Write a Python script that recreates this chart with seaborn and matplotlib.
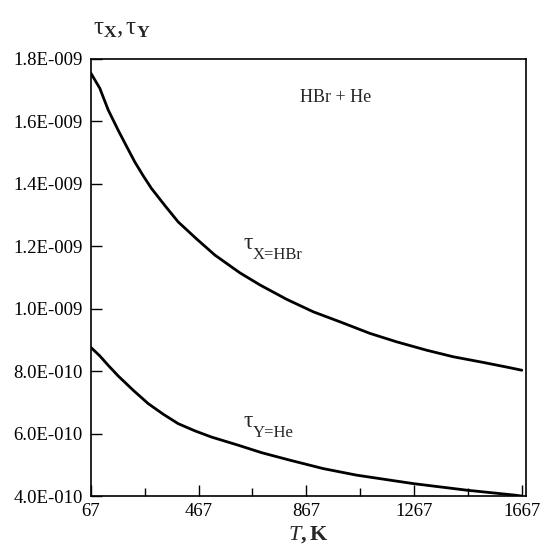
import numpy as np
import pandas as pd
import seaborn as sns
import matplotlib
matplotlib.use("Agg")
import matplotlib.pyplot as plt
from matplotlib.ticker import FuncFormatter, MultipleLocator

# values (tau in units of 1E-10)
t_hbr = [67, 100, 131, 168, 200, 230, 261, 292, 342, 391, 460, 527, 620, 695, 794,
         893, 992, 1103, 1202, 1314, 1413, 1524, 1623, 1667]
tau_hbr = [17.54, 17.06, 16.37, 15.72, 15.19, 14.70, 14.26, 13.85, 13.30, 12.78, 12.23,
           11.72, 11.15, 10.76, 10.30, 9.90, 9.58, 9.21, 8.94, 8.67, 8.46, 8.28, 8.11, 8.03]
t_he = [67, 100, 131, 168, 224, 280, 336, 391, 453, 515, 614, 701, 806, 930, 1054,
        1264, 1462, 1642, 1667]
tau_he = [8.76, 8.49, 8.19, 7.85, 7.39, 6.96, 6.62, 6.32, 6.09, 5.89, 5.63, 5.39, 5.15,
          4.88, 4.67, 4.40, 4.19, 4.03, 4.00]

df = pd.concat([
    pd.DataFrame({"T": t_hbr, "tau": np.array(tau_hbr) * 1e-10, "gas": "HBr"}),
    pd.DataFrame({"T": t_he, "tau": np.array(tau_he) * 1e-10, "gas": "He"}),
])

sns.set_style("ticks")
plt.rcParams['font.family'] = ['Liberation Serif', 'DejaVu Serif']
plt.rcParams['mathtext.fontset'] = 'custom'
plt.rcParams['mathtext.rm'] = 'Liberation Serif'
plt.rcParams['mathtext.it'] = 'Liberation Serif:italic'
plt.rcParams['mathtext.bf'] = 'Liberation Serif:bold'

fig = plt.figure(figsize=(5.41, 5.5), dpi=100)
ax = fig.add_axes([0.168, 0.098, 0.804, 0.795])

sns.lineplot(data=df, x="T", y="tau", units="gas", estimator=None,
             color="black", linewidth=2.0, ax=ax, sort=False)

ax.set_xlim(67, 1682)
ax.set_ylim(4e-10, 1.8e-9)
ax.set_xticks([67, 467, 867, 1267, 1667])
ax.xaxis.set_minor_locator(MultipleLocator(200, offset=67))
ax.set_yticks(np.arange(4e-10, 1.81e-9, 2e-10))


def sci(v, pos):
    m, e = f"{v:.1E}".split("E")
    sign = "-" if int(e) < 0 else "+"
    return f"{m}E{sign}{abs(int(e)):03d}"


ax.yaxis.set_major_formatter(FuncFormatter(sci))
ax.tick_params(axis="both", which="both", direction="in", labelsize=13.5,
               colors="black", top=False, right=False)
ax.tick_params(axis="both", which="major", length=8, width=1)
ax.tick_params(axis="x", which="minor", length=6, width=1)
ax.tick_params(axis="x", pad=5)
ax.tick_params(axis="y", pad=6)
for s in ax.spines.values():
    s.set_visible(True)
    s.set_linewidth(1.2)
    s.set_color("black")

ax.set_xlabel(r"$\mathbf{\mathit{T}}$" + r"$\mathbf{, K}$", fontsize=16, labelpad=3)
ax.set_ylabel("")

fig.text(0.172, 0.947, r"$\mathrm{τ}_{\mathbf{X}}\mathrm{,}\,\mathrm{τ}_{\mathbf{Y}}$",
         fontsize=18, ha="left", va="center")

ax.text(843, 16.75e-10, "HBr + He", fontsize=13, ha="left", va="center")


def tau_label(x, y, sub):
    t = ax.text(x, y, "τ", fontsize=17, ha="left", va="baseline")
    ax.annotate(sub, xy=(1, 0), xycoords=t, xytext=(0.5, -3),
                textcoords="offset points", fontsize=12, ha="left", va="baseline")


tau_label(632, 11.9e-10, "X=HBr")
tau_label(632, 6.2e-10, "Y=He")

fig.savefig("out.png", dpi=100)
